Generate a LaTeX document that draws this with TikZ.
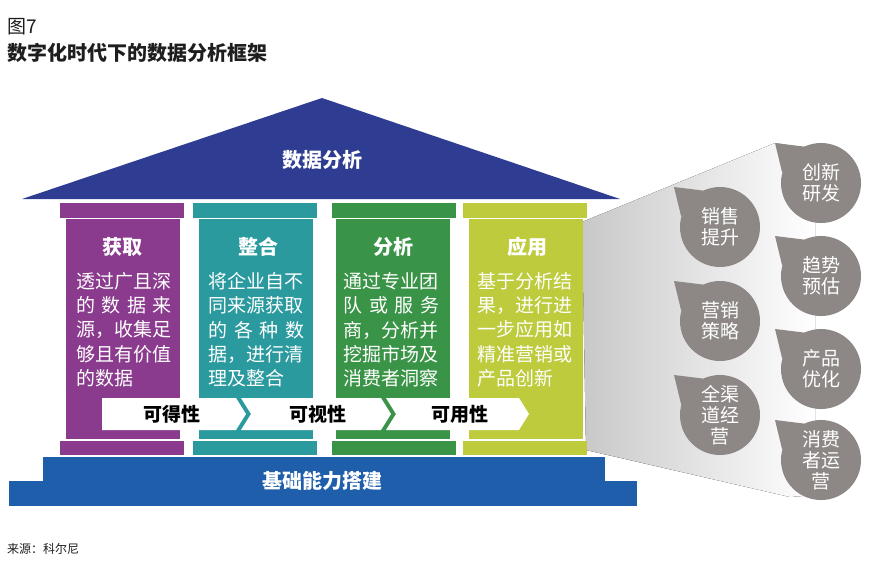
\documentclass[tikz,border=0pt]{standalone}
\usepackage{fontspec}
\setmainfont{Noto Sans CJK SC}
\usetikzlibrary{calc}
\definecolor{roofblue}{HTML}{2E3D92}
\definecolor{baseblue}{HTML}{1F5EAA}
\definecolor{cpurple}{HTML}{8B3B8E}
\definecolor{cteal}{HTML}{2A9A9F}
\definecolor{cgreen}{HTML}{3A9447}
\definecolor{clime}{HTML}{BDCB3C}
\definecolor{bubblegray}{HTML}{8D8886}
\definecolor{fangray}{HTML}{C8C8C8}
\definecolor{titlegray}{HTML}{1E1E1E}
\newcommand\jline[1]{\makebox[96pt][l]{#1}}
\tikzset{
  coltitle/.style={text=white, font=\fontsize{20}{20}\selectfont\bfseries, inner sep=0},
  colbody/.style={text=white, font=\fontsize{19}{24.4}\selectfont, align=left, inner sep=0, anchor=north},
  bandtext/.style={text=black, font=\fontsize{19}{19}\selectfont\bfseries, inner sep=0},
  bubble/.style={circle, fill=bubblegray, minimum size=80pt, inner sep=0, text=white, align=center, font=\fontsize{19}{21}\selectfont},
  bandseg/.style={fill=white},
  bigtext/.style={text=white, font=\fontsize{20}{20}\selectfont\bfseries, inner sep=0},
}
\begin{document}
\begin{tikzpicture}[x=1pt,y=-1pt]
\useasboundingbox (0,0) rectangle (882,566);
\fill[white] (0,0) rectangle (882,566);

% titles
\node[anchor=west, inner sep=0, text=titlegray, font=\fontsize{19}{19}\selectfont] (fig) at (7,27) {图7};
\node[anchor=west, inner sep=0, text=titlegray, font=\fontsize{20}{20}\selectfont\bfseries] (title) at (7,53) {数字化时代下的数据分析框架};

% gray fan
\fill[left color=fangray, right color=white] (582,222) -- (775,143) -- (815,150) -- (815,495) -- (790,497) -- (586,450) -- cycle;

% roof
\fill[roofblue] (22,199) -- (322,98) -- (620,199) -- cycle;
\node[bigtext] (roof) at (322,160) {数据分析};

% columns
\foreach \cl/\sl/\c in {60/66/cpurple, 193/199/cteal, 332/336/cgreen, 463/469/clime}{
  \fill[\c] (\cl,203) rectangle ++(124,15);
  \fill[\c] (\sl,219) rectangle ++(114,220);
  \fill[\c] (\cl,441) rectangle ++(124,14);
}

% base
\fill[baseblue] (43,457) rectangle (605,481);
\fill[baseblue] (9,481) rectangle (637,506);
\node[bigtext] (base) at (322,481) {基础能力搭建};

% column titles
\node[coltitle] (t1) at (122,247) {获取};
\node[coltitle] (t2) at (258,247) {整合};
\node[coltitle] (t3) at (393,247) {分析};
\node[coltitle] (t4) at (527,247) {应用};

% column bodies
\node[colbody] (b1) at (124,272) {\jline{透过广且深}\\\jline{的\hfill 数\hfill 据\hfill 来}\\\jline{源，收集足}\\\jline{够且有价值}\\\jline{的数据}};
\node[colbody] (b2) at (256.5,272) {\jline{将企业自不}\\\jline{同来源获取}\\\jline{的\hfill 各\hfill 种\hfill 数}\\\jline{据，进行清}\\\jline{理及整合}};
\node[colbody] (b3) at (391.5,272) {\jline{通过专业团}\\\jline{队\hfill 或\hfill 服\hfill 务}\\\jline{商，分析并}\\\jline{挖掘市场及}\\\jline{消费者洞察}};
\node[colbody] (b4) at (525.5,272) {\jline{基于分析结}\\\jline{果，进行进}\\\jline{一步应用如}\\\jline{精准营销或}\\\jline{产品创新}};

% band
\fill[bandseg] (102,398) -- (236,398) -- (246,414) -- (236,430) -- (102,430) -- cycle;
\fill[bandseg] (241,398) -- (381,398) -- (391,414) -- (381,430) -- (241,430) -- (251,414) -- cycle;
\fill[bandseg] (386,398) -- (519,398) -- (529,414) -- (519,430) -- (386,430) -- (396,414) -- cycle;
\node[bandtext] (p1) at (172,414) {可得性};
\node[bandtext] (p2) at (318,414) {可视性};
\node[bandtext] (p3) at (460,414) {可用性};

% bubbles
\foreach \n/\x/\y/\t in {
  q1/720/227/{销售\\提升},
  q2/720/321/{营销\\策略},
  q3/720/415/{全渠\\道经\\营},
  r1/821/183/{创新\\研发},
  r2/821/276/{趋势\\预估},
  r3/821/369/{产品\\优化},
  r4/821/460/{消费\\者运\\营}}{
  \node[bubble] (\n) at (\x,\y) {\t};
  \fill[bubblegray] ($(\n.center)+(-46,-40)$) -- (\n.165) -- (\n.115) -- cycle;
}

% source
\node[anchor=west, inner sep=0, text=titlegray, font=\fontsize{12}{12}\selectfont] (src) at (7,549) {来源：科尔尼};
\end{tikzpicture}
\end{document}
